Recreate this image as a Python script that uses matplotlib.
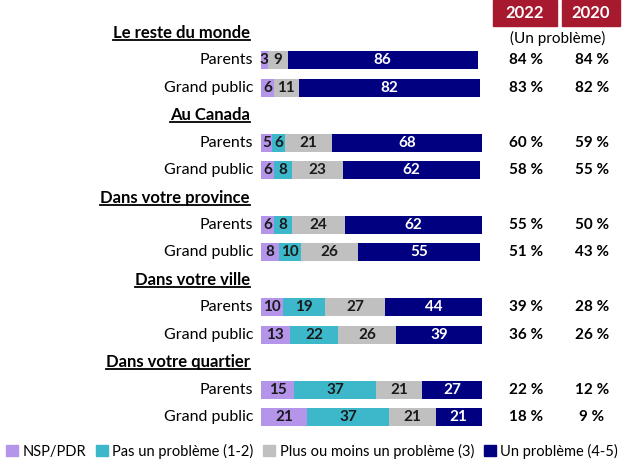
import matplotlib.pyplot as plt
from matplotlib.lines import Line2D
from matplotlib.patches import Rectangle, Patch

plt.rcParams['font.family'] = ['Lato', 'DejaVu Sans']

groups = ['Le reste du monde', 'Au Canada', 'Dans votre province',
          'Dans votre ville', 'Dans votre quartier']
audiences = ['Parents', 'Grand public']

nsp = [3, 6, 5, 6, 6, 8, 10, 13, 15, 21]
pas = [0, 0, 6, 8, 8, 10, 19, 22, 37, 37]
plus = [9, 11, 21, 23, 24, 26, 27, 26, 21, 21]
un = [86, 82, 68, 62, 62, 55, 44, 39, 27, 21]

y2022 = ['84 %', '83 %', '60 %', '58 %', '55 %', '51 %', '39 %', '36 %', '22 %', '18 %']
y2020 = ['84 %', '82 %', '59 %', '55 %', '50 %', '43 %', '28 %', '26 %', '12 %', '9 %']

series = [nsp, pas, plus, un]
names = ['NSP/PDR', 'Pas un problème (1-2)', 'Plus ou moins un problème (3)', 'Un problème (4-5)']
colors = ['#B495EA', '#3DB8CA', '#C0C0C0', '#000080']
txt_colors = ['#1a1a1a', '#1a1a1a', '#1a1a1a', 'white']

W, H = 624, 468
fig = plt.figure(figsize=(W / 100, H / 100), dpi=100)

# row r sits at pixel y = 33 + 27.43 * r
step, top = 27.43, 33
ax = fig.add_axes([261 / W, 0, (482 - 261) / W, 1])
ax.set_xlim(0, 100)
ax.set_ylim((H - top) / step, -top / step)
ax.axis('off')

rows = []
r = 0
for g in groups:
    ax.text(-5, r, g, ha='right', va='center', fontsize=12, fontweight='bold', color='black')
    r += 1
    for a in audiences:
        rows.append(r)
        r += 1

for i, yr in enumerate(rows):
    left = 0
    for s, c, tc in zip(series, colors, txt_colors):
        v = s[i]
        if v > 0:
            ax.barh(yr, v, left=left, height=0.66, color=c)
            ax.text(left + v / 2, yr, str(v), ha='center', va='center',
                    fontsize=11, fontweight='bold', color=tc)
        left += v
    ax.text(-3.5, yr, audiences[i % 2], ha='right', va='center', fontsize=11.5, color='black')
    fig.text(526 / W, 1 - (top + step * yr) / H, y2022[i], ha='center', va='center',
             fontsize=11, fontweight='bold')
    fig.text(592 / W, 1 - (top + step * yr) / H, y2020[i], ha='center', va='center',
             fontsize=11, fontweight='bold')

# year header boxes
for x0, x1, lab in [(493, 557, '2022'), (562, 620, '2020')]:
    fig.add_artist(Rectangle((x0 / W, 1 - 26 / H), (x1 - x0) / W, 26 / H,
                             transform=fig.transFigure, color='#A6192E'))
    fig.text((x0 + x1) / 2 / W, 1 - 13 / H, lab, ha='center', va='center',
             fontsize=12, fontweight='bold', color='white')
fig.text(558 / W, 1 - 38 / H, '(Un problème)', ha='center', va='center', fontsize=11)

handles = [Patch(color=c) for c in colors]
fig.legend(handles, names, loc='center', bbox_to_anchor=(0.5, 1 - 451 / H), ncol=4,
           frameon=False, fontsize=10.5, handlelength=0.8, handleheight=0.8,
           handletextpad=0.3, columnspacing=0.7, borderaxespad=0)

# underline the group headings
fig.canvas.draw()
ren = fig.canvas.get_renderer()
for t in ax.texts:
    if t.get_text() in groups:
        bb = t.get_window_extent(ren)
        fig.add_artist(Line2D([bb.x0 / W, bb.x1 / W], [(bb.y0 + 1) / H] * 2,
                              transform=fig.transFigure, color='black', lw=1.3))

fig.savefig('out.png', dpi=100)
